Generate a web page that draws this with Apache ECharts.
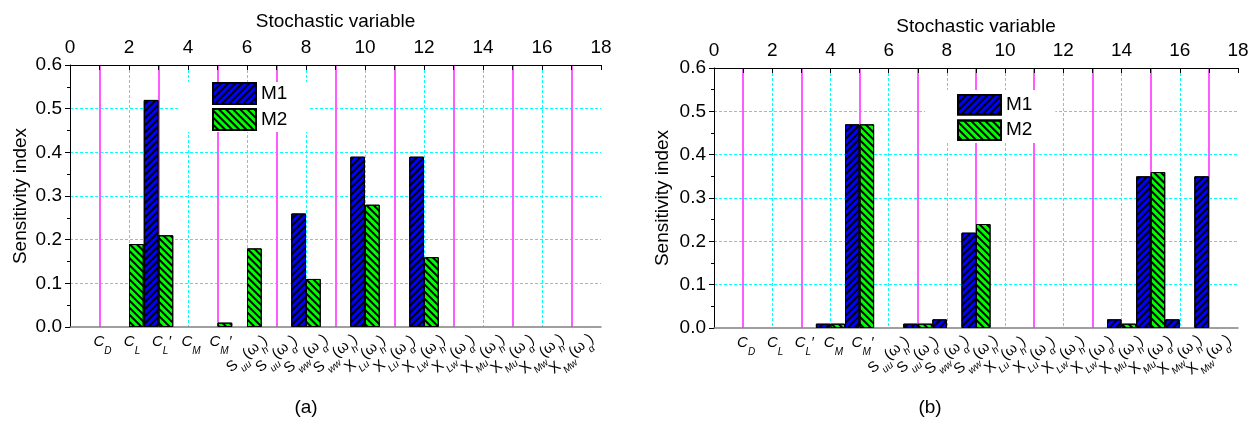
<!DOCTYPE html>
<html>
<head>
<meta charset="utf-8">
<script src="https://cdn.jsdelivr.net/npm/echarts@6/dist/echarts.min.js"></script>
<style>
  html, body { margin: 0; padding: 0; background: #fff; }
  #chart { width: 1258px; height: 421px; }
</style>
</head>
<body>
<div id="chart"></div>
<script>
// Stochastic variables, placed at x = 1..17 on the "Stochastic variable" axis
const variableNames = [
  'C_D', 'C_L', 'C_L′', 'C_M', 'C_M′',
  'S_uu(ω_h)', 'S_uu(ω_α)', 'S_ww(ω_α)', 'S_ww(ω_h)',
  'X_Lu(ω_h)', 'X_Lu(ω_α)', 'X_Lw(ω_h)', 'X_Lw(ω_α)',
  'X_Mu(ω_h)', 'X_Mu(ω_α)', 'X_Mw(ω_h)', 'X_Mw(ω_α)'
];
const variablePos = [1, 2, 3, 4, 5, 6, 7, 8, 9, 10, 11, 12, 13, 14, 15, 16, 17];

// Sensitivity indices, panel (a)
const m1PanelA = [0, 0, 0.52, 0, 0, 0, 0, 0.26, 0, 0.39, 0, 0.39, 0, 0, 0, 0, 0];
const m2PanelA = [0, 0.19, 0.21, 0, 0.01, 0.18, 0, 0.11, 0, 0.28, 0, 0.16, 0, 0, 0, 0, 0];
// Sensitivity indices, panel (b)
const m1PanelB = [0, 0, 0, 0.01, 0.47, 0, 0.01, 0.02, 0.22, 0, 0, 0, 0, 0.02, 0.35, 0.02, 0.35];
const m2PanelB = [0, 0, 0, 0.01, 0.47, 0, 0.01, 0, 0.24, 0, 0, 0, 0, 0.01, 0.36, 0, 0];

const seriesNames = ['M1', 'M2'];
const panelCaptions = ['(a)', '(b)'];

const FONT = '"Liberation Sans", Arial, Helvetica, sans-serif';
const CYAN = '#00ffff';
const MAGENTA = '#ff5cff';
const AXIS_MIN = 0, AXIS_MAX = 18;

// "C_L′" -> rich text with subscripts
function richLabel(name) {
  if (!name) return '';
  const mainStyle = name[0] === 'C' ? 'mi' : 'm';
  return name.split(/_([^()′]+)/)
    .map((p, i) => p === '' ? '' : '{' + (i % 2 ? 's' : mainStyle) + '|' + p + '}')
    .join('');
}
const nameAt = v => variableNames[variablePos.indexOf(v)];

const labelRich = {
  m:  { fontFamily: FONT, fontSize: 15, lineHeight: 28, color: '#000' },
  mi: { fontFamily: FONT, fontSize: 15, lineHeight: 28, color: '#000', fontStyle: 'italic' },
  s:  { fontFamily: FONT, fontSize: 10, lineHeight: 10, color: '#000', fontStyle: 'italic', verticalAlign: 'bottom' }
};

const decalM1 = { symbol: 'rect', symbolSize: 1, color: '#000', dashArrayX: [1, 0], dashArrayY: [1.5, 2.5], rotation: -Math.PI / 4 };
const decalM2 = { symbol: 'rect', symbolSize: 1, color: '#000', dashArrayX: [1, 0], dashArrayY: [1.5, 2.5], rotation: Math.PI / 4 };

const panels = [
  { grid: { left: 70, right: 657, top: 65, bottom: 94 }, m1: m1PanelA, m2: m2PanelA, nameGapTop: 34, nameGapLeft: 40,
    legend: { left: 180, top: 82, padding: [0, 22, 1, 32], itemHeight: 21, itemGap: 3 }, caption: [306, 408] },
  { grid: { left: 714, right: 20, top: 68, bottom: 93 }, m1: m1PanelB, m2: m2PanelB, nameGapTop: 31, nameGapLeft: 42,
    legend: { left: 925, top: 90, padding: [4, 23, 2, 32], itemHeight: 19.5, itemGap: 4 }, caption: [930, 408] }
];

const grid = [], xAxis = [], yAxis = [], series = [], legend = [], graphic = [];

panels.forEach((p, k) => {
  grid.push(p.grid);
  const gx = xAxis.length;

  // top value axis carrying the bars and the grid lines
  xAxis.push({
    type: 'value', gridIndex: k, position: 'top', min: AXIS_MIN, max: AXIS_MAX, interval: 2,
    name: 'Stochastic variable', nameLocation: 'middle', nameGap: p.nameGapTop,
    nameTextStyle: { fontFamily: FONT, fontSize: 19, color: '#000' },
    axisLine: { show: true, onZero: false, lineStyle: { color: '#000', width: 1 } },
    axisTick: { show: true, inside: true, length: 5, lineStyle: { color: '#000' } },
    minorTick: { show: true, splitNumber: 2, length: 5, lineStyle: { color: '#000' } },
    axisLabel: { fontFamily: FONT, fontSize: 19, color: '#000', margin: 8 },
    splitLine: { show: true, showMinLine: false, showMaxLine: false,
      lineStyle: { color: CYAN, type: [3, 2], width: 1 } },
    minorSplitLine: { show: true, lineStyle: { color: MAGENTA, width: 2 } }
  });
  // bottom axis: horizontal variable names
  xAxis.push({
    type: 'value', gridIndex: k, position: 'bottom', min: AXIS_MIN, max: AXIS_MAX,
    axisLine: { show: true, onZero: false, lineStyle: { color: '#808080', width: 1.5 } },
    axisTick: { show: false },
    splitLine: { show: false },
    axisLabel: {
      customValues: variablePos.slice(0, 5), margin: 1, padding: [0, 0, 0, 6],
      showMinLabel: true, showMaxLabel: true, hideOverlap: false,
      formatter: v => richLabel(nameAt(v)),
      rich: labelRich
    }
  });
  // bottom axis: slanted variable names (blank end entries keep every name visible)
  xAxis.push({
    type: 'value', gridIndex: k, position: 'bottom', min: AXIS_MIN, max: AXIS_MAX,
    axisLine: { show: false }, axisTick: { show: false }, splitLine: { show: false },
    axisLabel: {
      customValues: [AXIS_MIN].concat(variablePos.slice(5), [AXIS_MAX]),
      margin: 27, rotate: 40, hideOverlap: false,
      align: 'center', verticalAlign: 'middle',
      formatter: v => (v === AXIS_MIN || v === AXIS_MAX) ? '' : richLabel(nameAt(v)),
      rich: labelRich
    }
  });

  yAxis.push({
    type: 'value', gridIndex: k, min: 0, max: 0.6, interval: 0.1,
    name: 'Sensitivity index', nameLocation: 'middle', nameGap: p.nameGapLeft,
    nameTextStyle: { fontFamily: FONT, fontSize: 19, color: '#000' },
    axisLine: { show: true, lineStyle: { color: '#000', width: 1 } },
    axisTick: { show: true, inside: false, length: 5, lineStyle: { color: '#000' } },
    minorTick: { show: true, splitNumber: 2, length: 3, lineStyle: { color: '#000' } },
    axisLabel: { fontFamily: FONT, fontSize: 19, color: '#000', margin: 8, formatter: v => v.toFixed(1) },
    splitLine: { show: true, showMinLine: false, showMaxLine: false,
      lineStyle: { color: CYAN, type: [3, 2], width: 1 } }
  });

  [p.m1, p.m2].forEach((vals, j) => {
    series.push({
      name: seriesNames[j], type: 'bar', xAxisIndex: gx, yAxisIndex: k,
      barWidth: '50%', barGap: '0%',
      itemStyle: { color: j === 0 ? '#0000ff' : '#00ff00', borderColor: '#000', borderWidth: 1,
        decal: j === 0 ? decalM1 : decalM2 },
      emphasis: { disabled: true },
      data: variablePos.map((x, i) => [x, vals[i] > 0 ? vals[i] : '-'])
    });
  });

  legend.push(Object.assign({
    orient: 'vertical', data: seriesNames, itemWidth: 43, selectedMode: false,
    backgroundColor: '#fff', icon: 'rect', z: 10,
    textStyle: { fontFamily: FONT, fontSize: 19, color: '#000' }
  }, p.legend));

  graphic.push({
    type: 'text', x: p.caption[0], y: p.caption[1],
    style: { text: panelCaptions[k], font: '19px ' + FONT, fill: '#000', textAlign: 'center', textVerticalAlign: 'middle' }
  });
});

const chart = echarts.init(document.getElementById('chart'), null, { renderer: 'canvas' });
chart.setOption({
  animation: false,
  backgroundColor: '#fff',
  textStyle: { fontFamily: FONT },
  grid, xAxis, yAxis, series, legend, graphic
});
</script>
</body>
</html>
